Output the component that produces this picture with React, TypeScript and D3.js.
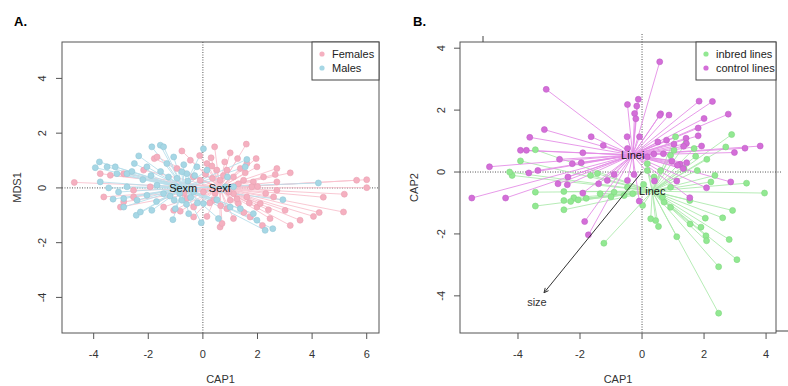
import * as d3 from "d3";

// ---- panel A: sex (CAP1 vs MDS1) ----
const femalesA: [number, number][] = [
  [-4.71, 0.2], [6.0, 0.3], [5.63, 0.28], [6.0, 0.01], [5.18, -0.23], [4.41, -0.34],
  [5.15, -0.88], [4.26, -0.9], [4.05, -1.04], [3.56, -1.18], [3.2, -1.37], [3.01, -0.82],
  [3.2, 0.55], [2.71, 0.71], [2.65, 0.49], [2.71, 0.22], [2.71, -0.09], [2.59, -0.33],
  [2.46, -1.12], [2.18, -1.37], [1.59, 1.6], [0.43, 1.5], [-0.12, 1.18], [1.0, 1.28],
  [1.27, 1.07], [1.95, 1.07], [1.61, 0.89], [1.98, 0.77], [0.15, 0.89], [0.33, 0.8],
  [-1.78, 1.07], [-1.68, 1.13], [-0.77, 1.35], [-0.46, 1.01], [-0.95, 0.71], [-2.17, 0.65],
  [-2.9, 0.52], [-3.39, 0.46], [-3.76, 0.52], [-3.63, -0.33], [-2.9, -0.51], [-2.54, -0.33],
  [-1.44, -0.7], [-0.83, -0.85], [-0.34, -1.06], [0.15, -1.04], [0.63, -1.43], [0.7, -1.3],
  [1.12, -1.12], [1.73, -1.06], [1.98, -0.7], [1.3, -0.57], [0.88, -0.76], [0.39, -0.45],
  [-0.59, -0.39], [-1.07, -0.82], [-0.34, -0.7], [1.12, 0.4], [1.49, 0.28], [1.85, 0.22],
  [2.22, 0.4], [0.63, 0.28], [1.12, -0.21], [1.61, -0.33], [2.1, -0.57], [-0.1, 0.28],
  [-1.93, 0.04], [-3.02, -0.7], [-2.54, -0.09], [0.51, 0.65], [0.88, 0.65], [1.37, 0.71],
  [1.79, 0.04], [1.0, -0.45], [0.02, -0.15], [2.4, -0.8], [1.5, -0.9], [0.3, 1.1],
  [0.35, 0.35], [0.75, 0.45], [1.3, 0.15], [0.95, -0.15], [0.45, -0.2], [0.25, -0.55],
  [0.65, -0.65], [1.25, -0.4], [1.55, 0.55], [0.1, 0.5], [-0.35, 0.4], [-0.7, -0.2],
  [2.0, 0.05], [2.3, -0.2], [0.8, 0.95], [1.7, -0.55],
];
const malesA: [number, number][] = [
  [4.23, 0.18], [2.93, -0.43], [2.28, -1.55], [2.56, -1.49], [1.98, -1.18], [1.85, -0.94],
  [1.61, 1.04], [1.55, 0.77], [0.02, 1.43], [-0.06, -1.27], [0.57, -1.12], [1.0, -0.7],
  [1.37, -0.76], [-1.56, 1.56], [-1.44, 1.5], [-1.87, 1.5], [-2.35, 1.17], [-2.51, 0.89],
  [-2.05, 0.77], [-3.79, 0.95], [-3.94, 0.74], [-3.51, 0.77], [-3.21, 0.77], [-3.15, 0.52],
  [-2.78, 0.52], [-3.76, 0.22], [-3.45, 0.0], [-3.09, -0.15], [-3.29, -0.41], [-2.44, -1.0],
  [-2.29, -0.88], [-1.87, -0.82], [-2.41, -0.45], [-2.05, -0.27], [-1.1, -1.16], [-1.01, -0.76],
  [-0.52, -0.94], [0.02, -0.57], [0.51, -0.43], [-0.95, 0.04], [-0.59, 0.52], [0.15, 0.65],
  [-1.26, 0.4], [-1.68, 0.1], [-1.44, -0.21], [-0.77, -0.45], [-1.32, 0.89], [-2.78, 0.04],
  [-1.07, 1.13], [-0.77, 0.59], [-0.34, -0.15], [0.82, 0.04], [1.12, 0.04], [-0.22, 0.77],
  [-2.9, -0.39], [-2.9, -0.7], [-1.9, 0.45], [-0.6, -0.6], [-1.2, -0.3], [0.9, 0.4],
  [-0.95, 0.35], [-0.55, 0.25], [-0.3, 0.45], [-1.05, -0.45], [-0.45, -0.35], [-0.85, -0.2],
  [-1.55, 0.6], [-2.2, 0.3], [-0.2, -0.55], [-0.7, 0.85], [-1.7, -0.5], [-2.6, 0.6],
];
const centroidsA = { Sexm: [-0.72, 0.0], Sexf: [0.62, 0.0] };
const ticksAx = [-4, -2, 0, 2, 4, 6];
const ticksAy = [-4, -2, 0, 2, 4];

// ---- panel B: lines (CAP1 vs CAP2) ----
const controlB: [number, number][] = [
  [0.57, 3.56], [-3.09, 2.67], [-0.12, 2.35], [-0.47, 2.18], [-0.17, 2.13], [-0.24, 1.89],
  [-0.2, 1.72], [1.84, 2.29], [2.27, 2.28], [2.78, 1.87], [2.0, 1.73], [0.87, 1.84],
  [0.6, 1.88], [0.57, 1.83], [1.81, 1.42], [1.81, 1.17], [-3.15, 1.37], [-3.62, 1.12],
  [-1.64, 1.14], [-1.25, 0.86], [-0.48, 1.14], [-0.08, 1.14], [-3.92, 0.7], [-3.73, 0.7],
  [-1.91, 0.62], [-2.66, 0.41], [-4.92, 0.17], [-3.65, -0.03], [-3.36, 0.05], [-2.25, 0.27],
  [-1.96, 0.3], [3.81, 0.84], [3.32, 0.77], [2.98, 0.63], [1.92, 0.84], [1.42, 1.09],
  [1.43, 0.92], [1.03, 0.9], [1.34, 0.83], [0.79, 1.03], [0.51, 0.97], [0.38, 0.58],
  [0.69, 0.59], [1.23, 0.25], [1.44, 0.3], [1.33, 0.11], [0.96, 0.35], [1.14, 0.22],
  [2.86, -0.32], [2.08, -0.51], [1.12, -0.29], [0.4, -0.29], [1.54, -0.83], [-0.09, -0.94],
  [-2.71, -0.38], [-2.41, -0.41], [-2.39, -0.16], [-1.91, -0.68], [-1.4, -0.38], [-1.12, -0.27],
  [-0.9, -0.08], [-5.49, -0.84], [-4.4, -0.84], [-1.85, -1.6], [-1.73, -2.03], [-0.47, -0.27],
  [-0.26, -0.08], [-0.47, 0.76], [0.17, 0.49],
];
const inbredB: [number, number][] = [
  [-3.44, 0.72], [-3.92, 0.36], [-4.19, -0.11], [-4.27, 0.0], [-3.44, -0.65], [-3.44, -1.1],
  [-2.52, -0.63], [-2.52, -0.92], [-2.52, -1.22], [-2.2, -0.83], [-2.06, -0.9], [-1.66, -0.11],
  [-1.23, -2.3], [0.02, -1.08], [0.28, -1.51], [0.44, -1.57], [0.53, -1.76], [1.12, -2.09],
  [1.55, -1.68], [1.9, -1.78], [2.04, -1.49], [2.06, -2.06], [2.08, -2.22], [2.6, -1.48],
  [2.92, -1.24], [2.81, -2.18], [3.06, -2.83], [2.47, -3.06], [2.47, -4.56], [3.95, -0.68],
  [3.37, -0.36], [2.35, -0.11], [2.09, 0.41], [2.7, 0.81], [2.89, 1.21], [1.73, 0.51],
  [1.08, 1.14], [1.41, 0.92], [1.68, 0.76], [0.92, 0.54], [1.03, 0.7], [1.35, 0.11],
  [1.78, 0.05], [0.6, 0.05], [0.17, 0.05], [0.17, 0.27], [0.39, -0.16], [0.92, -0.49],
  [-0.47, -0.49], [-0.9, -0.65], [-1.44, -0.05], [-0.58, -0.76], [0.71, -0.97], [0.92, -1.14],
  [1.54, -0.92], [2.22, -0.32], [0.66, -0.81], [-1.0, -0.8], [-1.35, -0.7], [-0.3, -0.7],
  [0.05, -0.4], [-2.3, -0.95], [-1.8, -0.85],
];
const centroidsB = { Linei: [-0.3, 0.55], Linec: [0.33, -0.62] };
const sizeArrow = [-3.16, -3.9];
const ticksBx = [-4, -2, 0, 2, 4];
const ticksBy = [-4, -2, 0, 2, 4];

const FONT = "'Liberation Sans', Arial, sans-serif";

type Group = { pts: [number, number][]; c: [number, number]; line: string; fill: string; stroke: string };

function Panel({
  x, y, groups, xTicks, yTicks, yTitle, yLabelX, yTitleX, letter, letterX,
  legend, legendX, centroidLabels, extra, vTop, hRight,
}: any) {
  const [x0, x1] = x.range();
  const [y1, y0] = y.range();
  return (
    <g>
      <text x={letterX} y={26} fontFamily={FONT} fontWeight="bold" fontSize={13}>{letter}</text>
      {/* reference lines */}
      <line x1={x(0)} x2={x(0)} y1={vTop} y2={y1 + 1} stroke="#555" strokeDasharray="1,1.5" />
      <line x1={x0} x2={hRight} y1={y(0)} y2={y(0)} stroke="#555" strokeDasharray="1,1.5" />
      {groups.map((g: Group, i: number) => (
        <g key={"s" + i}>
          {g.pts.map((p, j) => (
            <line key={j} x1={x(g.c[0])} y1={y(g.c[1])} x2={x(p[0])} y2={y(p[1])} stroke={g.line} strokeWidth={0.9} />
          ))}
        </g>
      ))}
      {groups.map((g: Group, i: number) => (
        <g key={"p" + i}>
          {g.pts.map((p, j) => (
            <circle key={j} cx={x(p[0])} cy={y(p[1])} r={3} fill={g.fill} stroke={g.stroke} strokeWidth={0.6} />
          ))}
        </g>
      ))}
      {extra}
      {Object.entries(centroidLabels).map(([k, v]: any) => (
        <text key={k} x={x(v[0])} y={y(v[1])} dy="0.35em" textAnchor="middle" fontFamily={FONT} fontSize={11} fill="#111">{k}</text>
      ))}
      {/* box */}
      <rect x={x0} y={y0} width={x1 - x0} height={y1 - y0} fill="none" stroke="#555" strokeWidth={1} />
      {/* x axis */}
      {xTicks.map((t: number) => (
        <g key={t}>
          <line x1={x(t)} x2={x(t)} y1={y1} y2={y1 + 6} stroke="#555" />
          <text x={x(t)} y={358} textAnchor="middle" fontFamily={FONT} fontSize={11} fill="#333">{t < 0 ? "-" + Math.abs(t) : t}</text>
        </g>
      ))}
      <text x={(x0 + x1) / 2} y={383} textAnchor="middle" fontFamily={FONT} fontSize={11} fill="#333">CAP1</text>
      {/* y axis */}
      {yTicks.map((t: number) => (
        <g key={t}>
          <line x1={x0 - 6} x2={x0} y1={y(t)} y2={y(t)} stroke="#555" />
          <text transform={`translate(${yLabelX},${y(t)}) rotate(-90)`} textAnchor="middle" dy="0.35em" fontFamily={FONT} fontSize={11} fill="#333">{t < 0 ? "-" + Math.abs(t) : t}</text>
        </g>
      ))}
      <text transform={`translate(${yTitleX},${(y0 + y1) / 2}) rotate(-90)`} textAnchor="middle" dy="0.35em" fontFamily={FONT} fontSize={11} fill="#333">{yTitle}</text>
      {/* legend */}
      <rect x={legendX} y={y0} width={x1 - legendX} height={38} fill="white" stroke="#444" />
      {legend.map((l: any, i: number) => (
        <g key={l.label}>
          <circle cx={legendX + 10} cy={y0 + 12 + i * 14} r={2.6} fill={l.color} />
          <text x={legendX + 20} y={y0 + 12 + i * 14} dy="0.35em" fontFamily={FONT} fontSize={11} fill="#222">{l.label}</text>
        </g>
      ))}
    </g>
  );
}

export default function App() {
  const xA = d3.scaleLinear().domain([-5.16, 6.45]).range([62, 379]);
  const yA = d3.scaleLinear().domain([-5.3, 5.33]).range([333, 42]);
  const xB = d3.scaleLinear().domain([-5.87, 4.32]).range([460, 776]);
  const yB = d3.scaleLinear().domain([-5.2, 4.2]).range([333, 42]);

  const pink = "#f5b0c0";
  const blue = "#a6d7e5";
  const green = "#92e892";
  const magenta = "#d46ed8";

  const groupsA: Group[] = [
    { pts: femalesA, c: centroidsA.Sexf as [number, number], line: "#f8c2ce", fill: pink, stroke: "#e9a3b4" },
    { pts: malesA, c: centroidsA.Sexm as [number, number], line: "#b8dfeb", fill: blue, stroke: "#96c8d6" },
  ];
  const groupsB: Group[] = [
    { pts: inbredB, c: centroidsB.Linec as [number, number], line: "#aeeaae", fill: green, stroke: "#80d880" },
    { pts: controlB, c: centroidsB.Linei as [number, number], line: "#e48fe6", fill: magenta, stroke: "#c060c8" },
  ];

  const ax = xB(sizeArrow[0]);
  const ay = yB(sizeArrow[1]);
  const ang = Math.atan2(ay - yB(0), ax - xB(0));
  const head = 5;
  const arrow = (
    <g>
      <line x1={xB(0)} y1={yB(0)} x2={ax} y2={ay} stroke="#333" strokeWidth={1} />
      <path
        d={`M${ax + head * Math.cos(ang + Math.PI - 0.45)},${ay + head * Math.sin(ang + Math.PI - 0.45)}L${ax},${ay}L${ax + head * Math.cos(ang + Math.PI + 0.45)},${ay + head * Math.sin(ang + Math.PI + 0.45)}`}
        fill="none" stroke="#333" strokeWidth={1}
      />
      <text x={xB(-3.39)} y={yB(-4.19)} dy="0.35em" textAnchor="middle" fontFamily={FONT} fontSize={11} fill="#333">size</text>
    </g>
  );

  return (
    <svg width={788} height={386} style={{ position: "absolute", left: 0, top: 0, background: "white" }}>
      <rect width={788} height={386} fill="white" />
      <Panel
        x={xA} y={yA} groups={groupsA} xTicks={ticksAx} yTicks={ticksAy}
        yTitle="MDS1" yLabelX={42} yTitleX={17} letter="A." letterX={14}
        legend={[{ label: "Females", color: pink }, { label: "Males", color: blue }]}
        legendX={312} centroidLabels={centroidsA} vTop={42} hRight={379}
      />
      <Panel
        x={xB} y={yB} groups={groupsB} xTicks={ticksBx} yTicks={ticksBy}
        yTitle="CAP2" yLabelX={441} yTitleX={414} letter="B." letterX={413}
        legend={[{ label: "inbred lines", color: green }, { label: "control lines", color: magenta }]}
        legendX={696} centroidLabels={centroidsB} extra={arrow} vTop={34} hRight={781}
      />
      {/* extra biplot ticks of panel B */}
      <line x1={483} x2={483} y1={36} y2={42} stroke="#444" />
      <line x1={776} x2={790} y1={331} y2={331} stroke="#444" />
    </svg>
  );
}
